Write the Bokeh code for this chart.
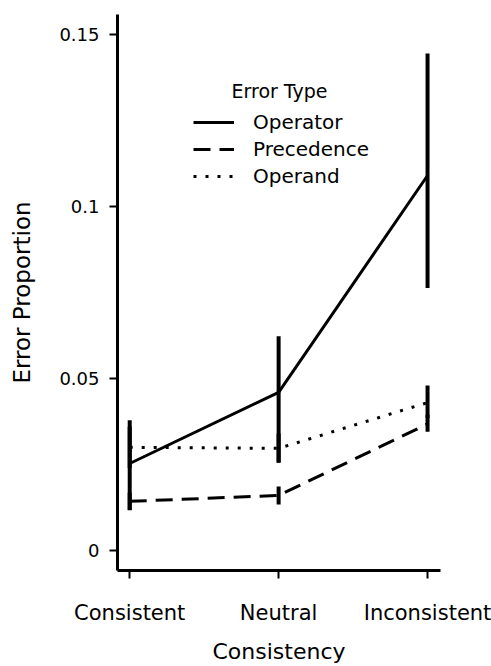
from bokeh.plotting import figure
from bokeh.models import (Range1d, FixedTicker, NumeralTickFormatter, Legend, LegendItem,
                          Label, ColumnDataSource)
from bokeh.embed import file_html
from bokeh.resources import INLINE

# ---- data ----
categories = ["Consistent", "Neutral", "Inconsistent"]
positions = [1, 2, 3]
y_ticks = [0, 0.05, 0.1, 0.15]

operator = [0.0253, 0.0460, 0.1090]
operator_lo = [0.0117, 0.0256, 0.0763]
operator_hi = [0.0379, 0.0623, 0.1445]

precedence = [0.0143, 0.0160, 0.0368]
precedence_lo = [0.0118, 0.0134, 0.0345]
precedence_hi = [0.0168, 0.0186, 0.0395]

operand = [0.0300, 0.0297, 0.0430]
operand_lo = [0.0240, 0.0255, 0.0385]
operand_hi = [0.0360, 0.0340, 0.0480]

FONT = "DejaVu Sans"

p = figure(width=491, height=666, output_backend="svg", toolbar_location=None,
           x_range=Range1d(0.918, 3.087), y_range=Range1d(-0.0058, 0.1558),
           min_border_left=117, min_border_right=51, min_border_top=14, min_border_bottom=96)
p.outline_line_color = None
p.grid.visible = False
p.background_fill_color = "white"
p.border_fill_color = "white"

series = [
    ("Operator", operator, operator_lo, operator_hi, "solid"),
    ("Precedence", precedence, precedence_lo, precedence_hi, "17 9"),
    ("Operand", operand, operand_lo, operand_hi, "3 9"),
]

items = []
for name, vals, lo, hi, dash in series:
    src = ColumnDataSource(dict(x=positions, y=vals, lo=lo, hi=hi))
    r = p.line("x", "y", source=src, line_color="black", line_width=3, line_dash=dash)
    p.segment(x0="x", y0="lo", x1="x", y1="hi", source=src, line_color="black", line_width=4)
    items.append(LegendItem(label=name, renderers=[r]))

legend = Legend(items=items, location=(76, 381), padding=0, margin=0, spacing=1,
                glyph_width=41, glyph_height=26, label_height=26, label_standoff=19,
                label_text_font=FONT, label_text_font_size="20px", label_text_color="black",
                border_line_color=None, background_fill_alpha=0)
p.add_layout(legend, "center")

p.add_layout(Label(x=162, y=480, x_units="screen", y_units="screen", text="Error Type",
                   text_align="center", text_baseline="middle", text_font=FONT,
                   text_font_size="19px", text_color="black"))

# axes
for ax in (p.xaxis[0], p.yaxis[0]):
    ax.axis_line_width = 3
    ax.axis_line_color = "black"
    ax.major_tick_line_width = 2
    ax.major_tick_line_color = "black"
    ax.major_tick_out = 8
    ax.major_tick_in = 0
    ax.minor_tick_line_color = None
    ax.major_label_text_font = FONT
    ax.major_label_text_color = "black"
    ax.axis_label_text_font = FONT
    ax.axis_label_text_font_style = "normal"
    ax.axis_label_text_color = "black"

p.yaxis.ticker = FixedTicker(ticks=y_ticks)
p.yaxis.formatter = NumeralTickFormatter(format="0.[00]")
p.yaxis.major_label_text_font_size = "18px"
p.yaxis.major_label_standoff = 10
p.yaxis.axis_label = "Error Proportion"
p.yaxis.axis_label_text_font_size = "23px"
p.yaxis.axis_label_standoff = 21

p.xaxis.ticker = FixedTicker(ticks=positions)
p.xaxis.major_label_overrides = {k: v for k, v in zip(positions, categories)}
p.xaxis.major_label_text_font_size = "21px"
p.xaxis.major_label_standoff = 22
p.xaxis.axis_label = "Consistency"
p.xaxis.axis_label_text_font_size = "22px"
p.xaxis.axis_label_standoff = 11

open("out.html", "w").write(file_html(p, INLINE))
